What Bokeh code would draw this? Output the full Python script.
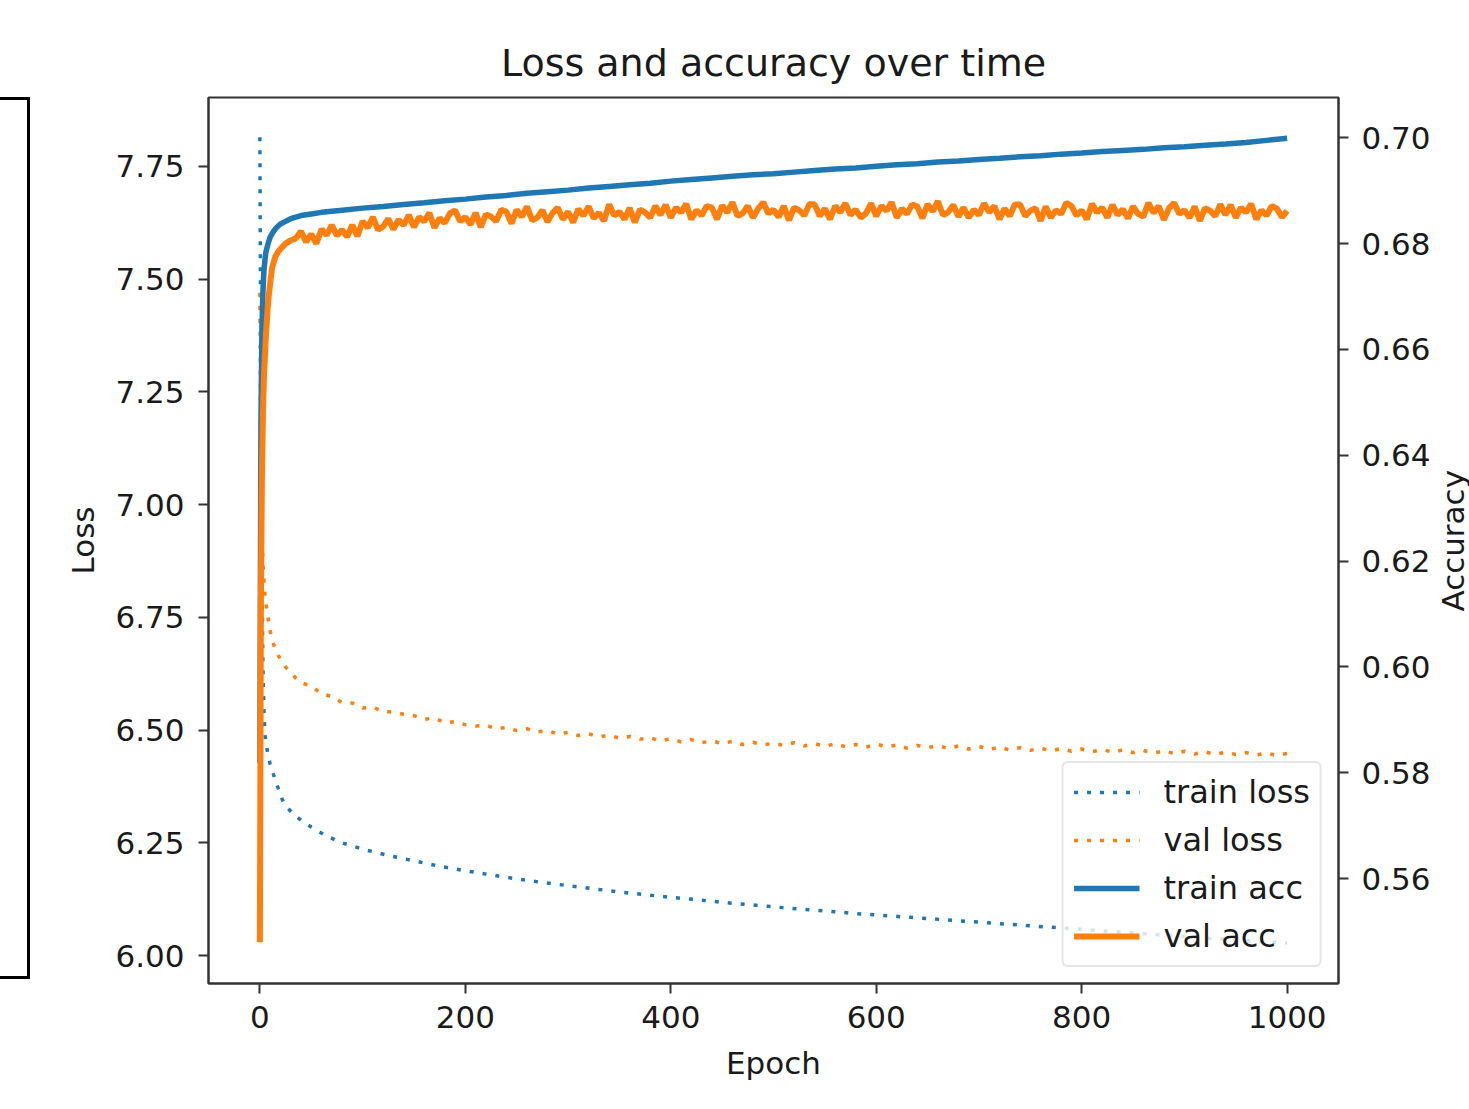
from bokeh.plotting import figure
from bokeh.models import (Range1d, LinearAxis, FixedTicker, NumeralTickFormatter,
                          Legend, LegendItem, Div)
from bokeh.layouts import row
from bokeh.embed import file_html
from bokeh.resources import INLINE

# ---------------- data ----------------
train_loss_epochs = [0, 1, 2, 3, 4, 5, 6, 8, 10, 12, 15, 18, 22, 26, 32, 40, 50, 65, 80, 100] + list(range(125, 1001, 25))
train_loss = [7.815, 7.25, 6.85, 6.64, 6.54, 6.49, 6.47, 6.445, 6.425, 6.41, 6.39, 6.37, 6.345, 6.33, 6.315,
              6.30, 6.285, 6.265, 6.250, 6.236,
              6.222, 6.210, 6.198, 6.188, 6.179, 6.170, 6.162, 6.155, 6.148, 6.141, 6.135, 6.129,
              6.124, 6.118, 6.113, 6.108, 6.103, 6.099, 6.094, 6.090, 6.086, 6.082, 6.078, 6.074,
              6.070, 6.066, 6.062, 6.058, 6.054, 6.050, 6.046, 6.042, 6.038, 6.035, 6.031, 6.028]

val_loss_epochs = [0, 1, 2, 3, 4, 5, 6, 8, 10, 12, 15, 18, 21, 25, 30, 35, 40] + list(range(50, 1001, 10))
val_loss = [7.47, 7.10, 6.95, 6.87, 6.83, 6.80, 6.78, 6.75, 6.72, 6.70, 6.68, 6.665, 6.655, 6.64, 6.628, 6.615, 6.605,
            6.598, 6.580, 6.575, 6.561, 6.560, 6.549, 6.551, 6.541, 6.540, 6.535,
            6.532, 6.524, 6.527, 6.516, 6.519, 6.512, 6.509, 6.511, 6.503, 6.506,
            6.499, 6.503, 6.496, 6.499, 6.491, 6.495, 6.488, 6.492, 6.485, 6.489,
            6.482, 6.486, 6.480, 6.483, 6.476, 6.481, 6.474, 6.479, 6.472, 6.476,
            6.470, 6.475, 6.468, 6.473, 6.467, 6.471, 6.466, 6.472, 6.465, 6.470,
            6.464, 6.470, 6.463, 6.468, 6.462, 6.469, 6.463, 6.467, 6.460, 6.466,
            6.461, 6.466, 6.459, 6.465, 6.458, 6.464, 6.457, 6.462, 6.456, 6.461,
            6.455, 6.460, 6.454, 6.459, 6.453, 6.458, 6.452, 6.457, 6.451, 6.456,
            6.450, 6.455, 6.449, 6.454, 6.448, 6.453, 6.447, 6.452, 6.446, 6.451,
            6.446, 6.450, 6.445, 6.449, 6.444, 6.448]

train_acc_epochs = [0, 1, 2, 3, 4, 5, 6, 8, 10, 13, 16, 20, 25, 30, 40, 50] + list(range(60, 1001, 20))
train_acc = [0.582, 0.645, 0.664, 0.671, 0.675, 0.677, 0.6785, 0.6800, 0.6812, 0.6822, 0.6830, 0.6837,
             0.6842, 0.6847, 0.6853, 0.6856,
             0.6859, 0.6863, 0.6867, 0.6870, 0.6874, 0.6877, 0.6881, 0.6884, 0.6888, 0.6891,
             0.6895, 0.6898, 0.6901, 0.6905, 0.6908, 0.6911, 0.6914, 0.6918, 0.6921, 0.6924,
             0.6927, 0.6930, 0.6932, 0.6935, 0.6938, 0.6941, 0.6943, 0.6946, 0.6949, 0.6951,
             0.6954, 0.6956, 0.6959, 0.6961, 0.6964, 0.6966, 0.6969, 0.6971, 0.6974, 0.6976,
             0.6978, 0.6981, 0.6983, 0.6986, 0.6988, 0.6991, 0.6995, 0.6999]

val_acc_epochs = [0, 1, 2, 3, 4, 5, 6, 8, 10, 12, 15, 18, 21, 25, 30, 35] + list(range(40, 1001, 5))
val_acc = [0.548, 0.612, 0.636, 0.648, 0.655, 0.659, 0.663, 0.669, 0.6725, 0.6755, 0.6775, 0.6785,
           0.6792, 0.6800, 0.6806, 0.6810,
           0.6823, 0.6803, 0.6818, 0.6800, 0.6827, 0.6816, 0.6835, 0.6815, 0.6826, 0.6813,
           0.6835, 0.6814, 0.6842, 0.6830, 0.6850, 0.6826, 0.6832, 0.6847, 0.6827, 0.6845,
           0.6835, 0.6854, 0.6831, 0.6850, 0.6842, 0.6858, 0.6830, 0.6848, 0.6839, 0.6857,
           0.6863, 0.6842, 0.6850, 0.6836, 0.6858, 0.6831, 0.6855, 0.6851, 0.6842, 0.6864,
           0.6860, 0.6838, 0.6864, 0.6851, 0.6870, 0.6844, 0.6849, 0.6863, 0.6841, 0.6858,
           0.6868, 0.6846, 0.6860, 0.6840, 0.6865, 0.6853, 0.6870, 0.6848, 0.6858, 0.6843,
           0.6874, 0.6853, 0.6860, 0.6846, 0.6867, 0.6840, 0.6864, 0.6859, 0.6849, 0.6871,
           0.6854, 0.6873, 0.6849, 0.6868, 0.6859, 0.6875, 0.6846, 0.6863, 0.6853, 0.6871,
           0.6868, 0.6846, 0.6872, 0.6859, 0.6878, 0.6852, 0.6857, 0.6871, 0.6849, 0.6866,
           0.6878, 0.6857, 0.6864, 0.6850, 0.6871, 0.6844, 0.6868, 0.6863, 0.6853, 0.6875,
           0.6874, 0.6852, 0.6866, 0.6846, 0.6871, 0.6859, 0.6876, 0.6854, 0.6864, 0.6849,
           0.6857, 0.6876, 0.6852, 0.6871, 0.6862, 0.6878, 0.6849, 0.6866, 0.6856, 0.6874,
           0.6870, 0.6848, 0.6874, 0.6861, 0.6880, 0.6854, 0.6859, 0.6873, 0.6851, 0.6868,
           0.6849, 0.6864, 0.6854, 0.6876, 0.6859, 0.6871, 0.6846, 0.6866, 0.6852, 0.6874,
           0.6874, 0.6852, 0.6862, 0.6867, 0.6843, 0.6870, 0.6849, 0.6863, 0.6856, 0.6877,
           0.6871, 0.6853, 0.6863, 0.6846, 0.6875, 0.6859, 0.6868, 0.6849, 0.6873, 0.6854,
           0.6865, 0.6848, 0.6870, 0.6856, 0.6851, 0.6877, 0.6858, 0.6871, 0.6845, 0.6867,
           0.6877, 0.6856, 0.6863, 0.6849, 0.6870, 0.6843, 0.6867, 0.6862, 0.6852, 0.6874,
           0.6854, 0.6873, 0.6849, 0.6868, 0.6859, 0.6875, 0.6846, 0.6863, 0.6853, 0.6871,
           0.6866, 0.6850, 0.6862]

x_ticks = [0, 200, 400, 600, 800, 1000]
loss_ticks = [6.00, 6.25, 6.50, 6.75, 7.00, 7.25, 7.50, 7.75]
acc_ticks = [0.56, 0.58, 0.60, 0.62, 0.64, 0.66, 0.68, 0.70]

TITLE = "Loss and accuracy over time"
ACC_LABEL = "Accuracy"
BLUE = "#1f77b4"
ORANGE = "#ff7f0e"
FONT = "DejaVu Sans"
TXT = "#1a1a1a"
SPINE = "#333333"

FIG_W, FIG_H = 1408, 1105
p = figure(width=FIG_W, height=FIG_H, output_backend="svg", toolbar_location=None,
           x_range=Range1d(-50, 1050), y_range=Range1d(5.938, 7.903),
           min_border_left=178, min_border_right=100, min_border_top=97, min_border_bottom=122,
           title=TITLE)
p.extra_y_ranges = {"acc": Range1d(0.5402, 0.7076)}
p.grid.visible = False
p.background_fill_color = "white"
p.border_fill_color = "white"
p.outline_line_color = SPINE
p.outline_line_width = 2

p.title.align = "center"
p.title.text_font = FONT
p.title.text_font_size = "38px"
p.title.text_font_style = "normal"
p.title.text_color = TXT
p.title.standoff = 25

r_tl = p.line(train_loss_epochs, train_loss, line_color=BLUE, line_width=3.5, line_dash="4 9")
r_vl = p.line(val_loss_epochs, val_loss, line_color=ORANGE, line_width=3.5, line_dash="4 9")
r_ta = p.line(train_acc_epochs, train_acc, line_color=BLUE, line_width=5.5, y_range_name="acc")
r_va = p.line(val_acc_epochs, val_acc, line_color=ORANGE, line_width=6, y_range_name="acc")

right_axis = LinearAxis(y_range_name="acc")
p.add_layout(right_axis, "right")

def style_axis(ax, ticks, fmt, standoff):
    ax.ticker = FixedTicker(ticks=ticks)
    if fmt:
        ax.formatter = NumeralTickFormatter(format=fmt)
    ax.major_tick_out = 10
    ax.major_tick_in = 0
    ax.minor_tick_line_color = None
    ax.major_tick_line_color = SPINE
    ax.major_tick_line_width = 2
    ax.axis_line_color = SPINE
    ax.axis_line_width = 2
    ax.major_label_text_font = FONT
    ax.major_label_text_font_size = "31px"
    ax.major_label_text_color = TXT
    ax.major_label_standoff = standoff
    ax.axis_label_text_font = FONT
    ax.axis_label_text_font_size = "31px"
    ax.axis_label_text_font_style = "normal"
    ax.axis_label_text_color = TXT

left_axis = p.yaxis[0]
left_axis.axis_label = "Loss"
style_axis(left_axis, loss_ticks, "0.00", 14)
left_axis.axis_label_standoff = 11
style_axis(right_axis, acc_ticks, "0.00", 13)
xa = p.xaxis[0]
xa.axis_label = "Epoch"
style_axis(xa, x_ticks, None, 12)
xa.axis_label_standoff = 14

legend = Legend(items=[LegendItem(label="train loss", renderers=[r_tl]),
                       LegendItem(label="val loss", renderers=[r_vl]),
                       LegendItem(label="train acc", renderers=[r_ta]),
                       LegendItem(label="val acc", renderers=[r_va])],
                location="bottom_right")
legend.margin = 16
legend.padding = 10
legend.spacing = 10
legend.glyph_width = 66
legend.glyph_height = 36
legend.label_height = 36
legend.label_standoff = 24
legend.label_text_font = FONT
legend.label_text_font_size = "32px"
legend.label_text_color = TXT
legend.border_line_color = "#cccccc"
legend.border_line_width = 2
legend.background_fill_color = "white"
legend.background_fill_alpha = 0.8
try:
    legend.border_radius = 6
except Exception:
    pass
p.add_layout(legend)

# fragment of a neighbouring panel's frame at the far left of the screenshot
frag = Div(text="", width=30, height=882, margin=(97, 0, 0, 0),
           styles={"border-top": "3px solid black", "border-right": "3px solid black",
                   "border-bottom": "3px solid black", "box-sizing": "border-box"})

# right-hand axis title, reading bottom-to-top as in the reference
acc_div = Div(
    text=('<div style="height:1082px;width:30px;display:flex;align-items:center;'
          'justify-content:center;overflow:visible;">'
          '<span style="writing-mode:vertical-rl;transform:rotate(180deg);'
          'font-family:\'DejaVu Sans\';font-size:31px;line-height:1;color:%s;'
          'white-space:nowrap;">%s</span></div>') % (TXT, ACC_LABEL),
    width=30, height=1082, margin=(0, 0, 0, 0))

layout = row(frag, p, acc_div)
open("out.html", "w").write(file_html(layout, INLINE))
